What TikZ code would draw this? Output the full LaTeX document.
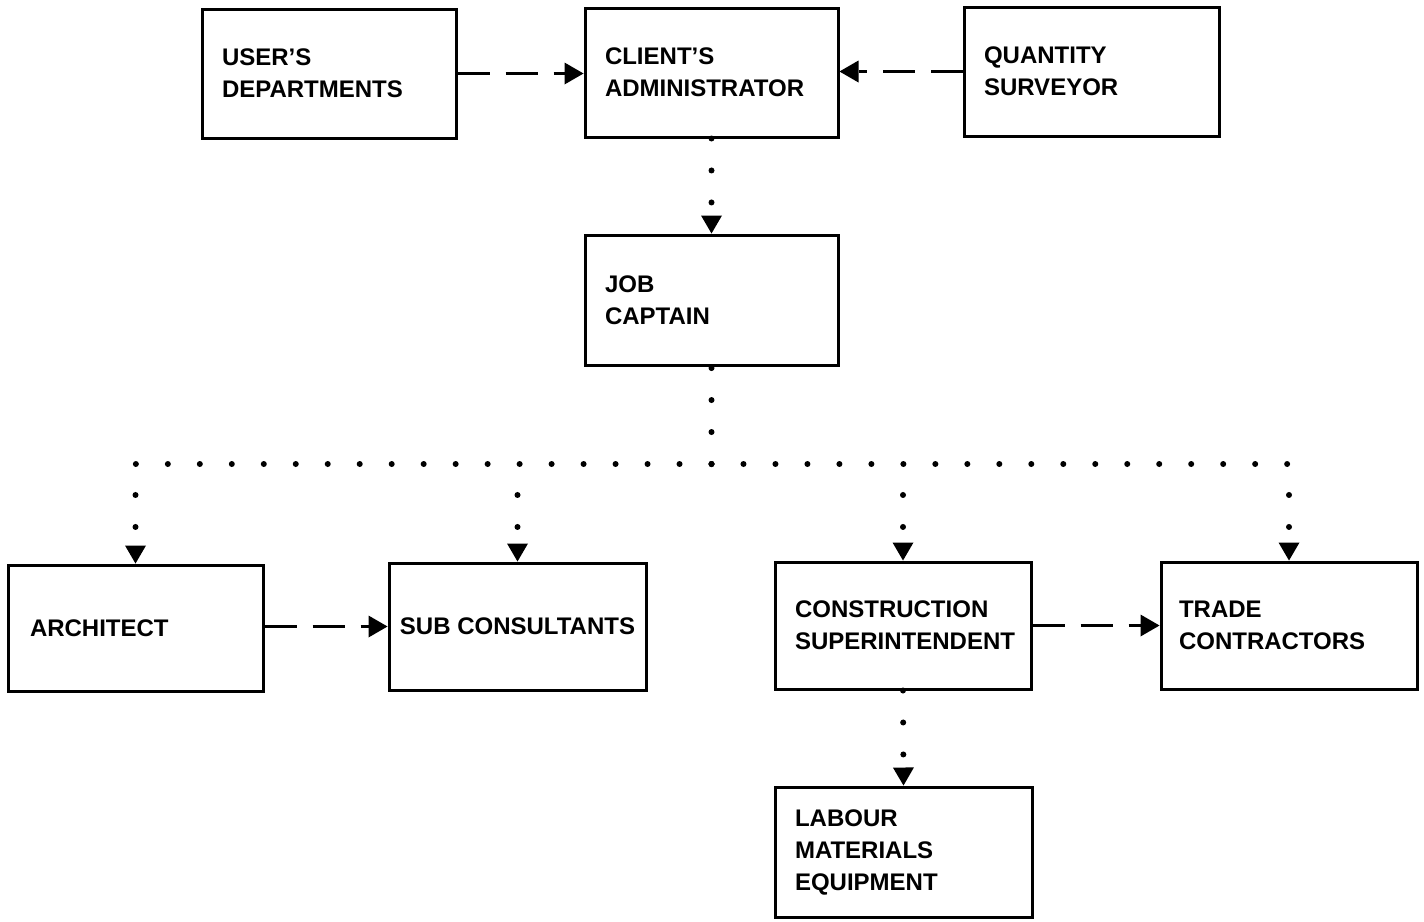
\documentclass[tikz,border=0pt]{standalone}
\usepackage{fontspec}
\setmainfont{Liberation Sans}
\usetikzlibrary{arrows.meta}
\tikzset{
  box/.style={draw, line width=3pt, inner xsep=20pt, inner ysep=0pt, align=left,
    font=\fontsize{24}{32}\selectfont\bfseries, anchor=center},
  dashedarrow/.style={line width=3pt, dash pattern=on 32pt off 16pt,
    -{Triangle[width=22pt,length=19pt,line width=0pt]}},
  dotline/.style={line width=6pt, line cap=round, dash pattern=on 0pt off 31.98pt},
  dotarrow/.style={dotline, -{Triangle[width=21pt,length=18pt,line width=0pt]}},
  droparrow/.style={dotarrow, dash phase=1pt}
}
\begin{document}
\begin{tikzpicture}[x=1pt,y=-1pt]
\useasboundingbox (0,0) rectangle (1424,921);
\node[box, minimum width=254pt, minimum height=129pt, text width=214pt] (users) at (329,73.5) {USER'S\\DEPARTMENTS};
\node[box, minimum width=253pt, minimum height=129pt, text width=213pt] (client) at (711.5,72.5) {CLIENT'S\\ADMINISTRATOR};
\node[box, minimum width=255pt, minimum height=129pt, text width=215pt] (qs) at (1091.5,71.5) {QUANTITY\\SURVEYOR};
\node[box, minimum width=253pt, minimum height=130pt, text width=213pt] (job) at (711.5,300) {JOB\\CAPTAIN};
\node[box, minimum width=255pt, minimum height=126pt, text width=211pt, inner xsep=22pt] (arch) at (135.5,628) {ARCHITECT};
\node[box, minimum width=257pt, minimum height=127pt, inner xsep=0pt] (sub) at (517.5,626.5) {SUB CONSULTANTS};
\node[box, minimum width=256pt, minimum height=127pt, text width=216pt] (cons) at (903,625.5) {CONSTRUCTION\\SUPERINTENDENT};
\node[box, minimum width=256pt, minimum height=127pt, text width=220pt, inner xsep=18pt] (trade) at (1289,625.5) {TRADE\\CONTRACTORS};
\node[box, minimum width=257pt, minimum height=130pt, text width=217pt] (lab) at (903.5,852) {LABOUR\\MATERIALS\\EQUIPMENT};

\draw[dashedarrow] (users.east) -- (users.east -| client.west);
\draw[dashedarrow] (qs.west) -- (qs.west -| client.east);
\draw[dotarrow] (client.south) -- (job.north);

\coordinate (bus) at (711.5,464);
\coordinate (busL) at (arch.north |- bus);
\coordinate (busR) at (trade.north |- bus);
\draw[dotline] (bus) -- (job.south);
\draw[dotline] (bus) -- (busL);
\draw[dotline] (bus) -- (busR);
\draw[droparrow] (busL) -- (arch.north);
\draw[droparrow] (sub.north |- bus) -- (sub.north);
\draw[droparrow] (cons.north |- bus) -- (cons.north);
\draw[droparrow] (busR) -- (trade.north);

\draw[dashedarrow] (arch.east |- sub.west) -- (sub.west);
\draw[dashedarrow] (cons.east) -- (cons.east -| trade.west);
\draw[dotarrow] (cons.south) -- (lab.north);
\end{tikzpicture}
\end{document}
